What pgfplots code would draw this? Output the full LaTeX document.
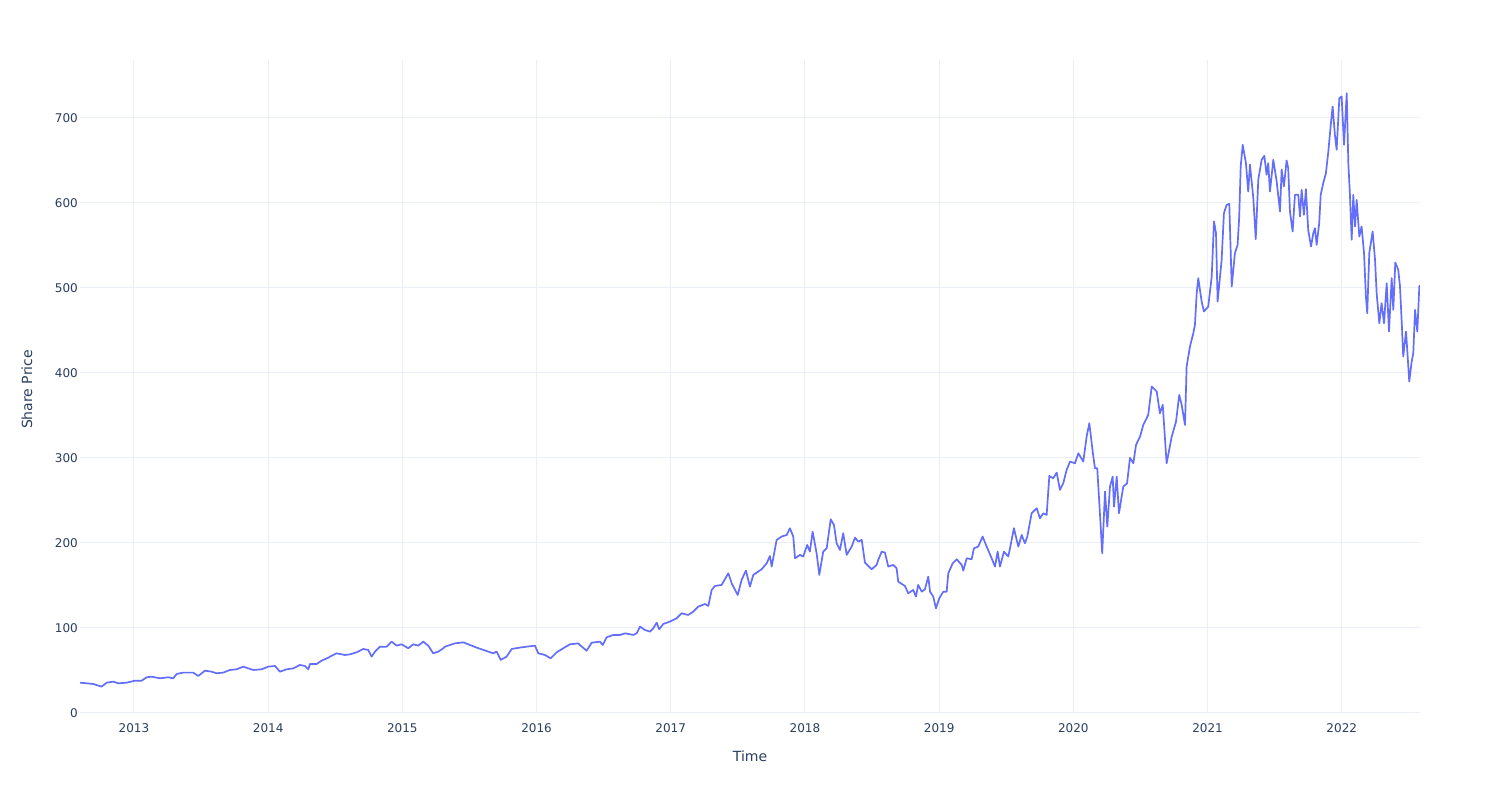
\documentclass[border=0pt]{standalone}
\usepackage{pgfplots}
\pgfplotsset{compat=1.18}
\usepackage{fontspec}
\setmainfont{DejaVu Sans}
\definecolor{plotblue}{HTML}{636EFA}
\definecolor{gridc}{HTML}{EBF0F8}
\definecolor{textc}{HTML}{2A3F5F}
\begin{document}
\begin{tikzpicture}[x=1pt,y=1pt]
\path[use as bounding box, fill=white] (0,0) rectangle (1500,800);
\begin{axis}[
  at={(80pt,87pt)}, anchor=south west,
  scale only axis, width=1340pt, height=653pt,
  xmin=2012.598, xmax=2022.583, ymin=0, ymax=768,
  axis line style={draw=none},
  major tick length=0pt,
  xtick={2013,2014,2015,2016,2017,2018,2019,2020,2021,2022},
  xticklabels={2013,2014,2015,2016,2017,2018,2019,2020,2021,2022},
  ytick={0,100,200,300,400,500,600,700},
  yticklabels={0,100,200,300,400,500,600,700},
  grid=major, major grid style={gridc, line width=1pt},
  xticklabel style={anchor=north, inner sep=0pt, yshift=-10.5pt, font=\fontsize{12}{14}\selectfont, text=textc},
  yticklabel style={anchor=east, inner sep=0pt, xshift=-2pt, font=\fontsize{12}{14}\selectfont, text=textc},
  xlabel={Time},
  xlabel style={at={(axis description cs:0.5,-0.0658)}, anchor=center, font=\fontsize{14}{16}\selectfont, text=textc},
  ylabel={Share Price},
  ylabel style={at={(axis description cs:-0.0396,0.4954)}, anchor=center, font=\fontsize{14}{16}\selectfont, text=textc},
  clip=true,
]
\draw[gridc, line width=2pt] (axis cs:2012.598,0) -- (axis cs:2022.583,0);
\addplot[plotblue, line width=1.7pt, line join=round, no marks] table[x=x, y=y] {
x y
2012.598 35.7
2012.697 34.1
2012.759 31.0
2012.797 35.7
2012.846 36.9
2012.883 34.9
2012.946 35.7
2013.008 38.0
2013.057 38.0
2013.095 42.0
2013.132 42.7
2013.194 40.8
2013.256 42.0
2013.293 40.8
2013.318 45.9
2013.367 47.5
2013.442 47.5
2013.479 43.5
2013.529 49.8
2013.579 48.6
2013.616 46.7
2013.665 47.5
2013.715 50.6
2013.765 51.4
2013.815 54.5
2013.852 52.5
2013.889 50.6
2013.952 51.4
2014.001 54.5
2014.051 55.3
2014.088 48.6
2014.138 51.4
2014.187 52.5
2014.237 56.5
2014.274 55.3
2014.299 51.4
2014.312 57.6
2014.361 57.6
2014.399 61.6
2014.448 65.0
2014.461 66.3
2014.510 70.2
2014.572 68.2
2014.610 69.0
2014.660 71.4
2014.709 75.3
2014.746 74.1
2014.771 66.3
2014.796 72.2
2014.833 78.0
2014.883 78.0
2014.920 83.9
2014.958 79.2
2014.995 80.8
2015.044 76.1
2015.081 80.8
2015.119 79.2
2015.156 83.9
2015.193 79.2
2015.230 70.2
2015.268 72.2
2015.305 76.1
2015.318 78.0
2015.392 81.9
2015.454 83.1
2015.491 80.8
2015.554 76.9
2015.628 72.9
2015.677 70.2
2015.703 72.2
2015.733 62.4
2015.777 66.3
2015.815 75.3
2015.876 76.9
2015.926 78.0
2015.988 79.2
2016.013 70.2
2016.063 68.2
2016.105 64.3
2016.150 71.4
2016.199 76.1
2016.249 80.8
2016.311 81.9
2016.323 80.0
2016.373 73.3
2016.411 82.7
2016.473 83.9
2016.493 80.0
2016.522 89.0
2016.572 91.8
2016.622 91.8
2016.659 93.7
2016.721 91.8
2016.746 93.7
2016.771 101.6
2016.808 97.6
2016.845 95.7
2016.870 99.6
2016.895 106.3
2016.914 98.4
2016.944 104.7
2016.994 107.5
2017.044 111.4
2017.081 117.3
2017.130 115.3
2017.168 119.2
2017.205 125.1
2017.255 128.2
2017.280 125.9
2017.305 144.7
2017.329 149.4
2017.379 150.6
2017.429 164.3
2017.454 152.5
2017.499 138.8
2017.528 156.5
2017.560 167.5
2017.590 148.6
2017.615 162.4
2017.677 169.0
2017.715 176.1
2017.739 184.7
2017.752 172.2
2017.789 203.5
2017.826 207.5
2017.864 209.4
2017.888 217.3
2017.913 207.5
2017.926 182.0
2017.963 185.9
2017.987 184.0
2018.017 197.6
2018.037 189.8
2018.057 213.3
2018.087 187.8
2018.107 162.4
2018.136 189.8
2018.162 193.7
2018.192 227.8
2018.216 221.2
2018.236 199.6
2018.261 191.8
2018.285 211.4
2018.311 185.9
2018.348 195.7
2018.373 206.3
2018.397 201.6
2018.423 203.5
2018.447 176.9
2018.497 169.0
2018.534 174.1
2018.546 180.0
2018.572 189.8
2018.596 188.6
2018.621 172.2
2018.658 174.1
2018.683 170.2
2018.695 154.5
2018.745 149.4
2018.770 140.8
2018.807 144.7
2018.827 136.9
2018.844 150.6
2018.870 142.7
2018.894 145.5
2018.919 160.4
2018.932 142.7
2018.956 136.9
2018.976 123.1
2019.001 134.9
2019.031 142.7
2019.056 142.7
2019.068 164.3
2019.101 176.1
2019.131 180.8
2019.168 174.1
2019.180 167.5
2019.205 182.0
2019.242 180.8
2019.259 193.7
2019.291 195.7
2019.324 207.5
2019.354 195.7
2019.391 182.0
2019.416 172.2
2019.436 189.8
2019.453 172.2
2019.483 189.8
2019.515 184.0
2019.528 193.7
2019.557 217.3
2019.590 195.7
2019.615 209.4
2019.639 199.6
2019.657 207.5
2019.689 234.9
2019.727 240.8
2019.751 229.0
2019.776 234.9
2019.801 232.9
2019.821 278.8
2019.850 276.0
2019.876 282.7
2019.900 262.4
2019.925 270.2
2019.950 285.9
2019.975 295.7
2020.012 293.7
2020.037 305.5
2020.074 295.7
2020.099 325.1
2020.119 340.8
2020.144 307.5
2020.161 287.8
2020.178 287.8
2020.198 234.9
2020.215 187.8
2020.236 260.4
2020.253 219.2
2020.273 266.3
2020.293 278.0
2020.303 242.7
2020.323 278.0
2020.340 234.9
2020.372 266.3
2020.400 270.0
2020.422 300.0
2020.447 293.7
2020.467 315.3
2020.497 325.1
2020.521 338.8
2020.558 350.6
2020.584 384.0
2020.621 378.2
2020.645 352.5
2020.666 362.4
2020.695 293.7
2020.733 325.1
2020.765 342.7
2020.789 374.1
2020.807 362.4
2020.832 338.8
2020.844 407.5
2020.869 431.0
2020.894 446.7
2020.906 456.5
2020.919 493.7
2020.931 511.4
2020.956 483.9
2020.973 472.2
2021.005 478.0
2021.031 513.3
2021.048 578.0
2021.063 564.3
2021.075 483.9
2021.105 533.0
2021.122 587.8
2021.142 597.6
2021.162 598.8
2021.180 501.6
2021.204 540.8
2021.224 550.6
2021.236 584.0
2021.247 642.7
2021.262 668.2
2021.286 646.7
2021.303 613.3
2021.316 645.1
2021.341 605.5
2021.359 557.3
2021.378 627.1
2021.403 650.6
2021.423 655.3
2021.440 633.0
2021.452 646.7
2021.465 613.3
2021.490 650.6
2021.515 625.1
2021.540 589.8
2021.552 639.0
2021.569 619.4
2021.589 649.8
2021.601 640.8
2021.614 589.8
2021.634 566.3
2021.651 609.4
2021.676 609.4
2021.689 584.0
2021.701 615.3
2021.718 585.9
2021.733 616.1
2021.750 568.2
2021.771 548.6
2021.788 564.3
2021.800 570.2
2021.813 550.6
2021.832 576.1
2021.843 609.4
2021.862 623.1
2021.882 634.9
2021.900 660.4
2021.917 689.8
2021.932 713.3
2021.949 680.0
2021.962 662.4
2021.982 723.1
2021.999 725.1
2022.017 668.2
2022.037 729.0
2022.049 646.7
2022.061 609.4
2022.074 556.5
2022.086 609.4
2022.099 572.2
2022.111 603.5
2022.131 560.4
2022.148 572.2
2022.166 540.8
2022.180 489.8
2022.190 470.2
2022.205 540.8
2022.230 566.3
2022.248 533.0
2022.260 493.7
2022.280 458.4
2022.297 482.0
2022.315 458.4
2022.335 505.5
2022.352 448.6
2022.372 511.4
2022.384 474.1
2022.399 529.8
2022.421 521.2
2022.434 501.6
2022.449 452.5
2022.458 419.2
2022.479 448.6
2022.488 427.1
2022.503 389.8
2022.521 413.3
2022.533 423.1
2022.546 474.1
2022.563 448.6
2022.578 501.6
2022.583 503.0
};
\end{axis}
\end{tikzpicture}
\end{document}
